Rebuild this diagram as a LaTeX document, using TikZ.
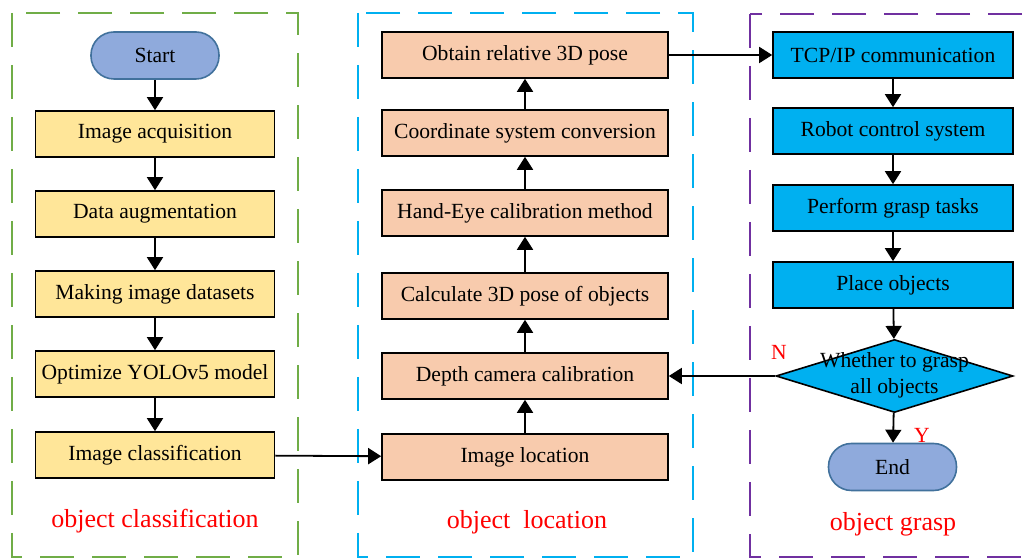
\documentclass[tikz,border=0pt]{standalone}
\usepackage{fontspec}
\setmainfont{Liberation Serif}
\usetikzlibrary{arrows.meta,shapes.geometric}
\definecolor{boxyellow}{HTML}{FFE699}
\definecolor{boxpeach}{HTML}{F8CBAD}
\definecolor{boxcyan}{HTML}{00B0F0}
\definecolor{termblue}{HTML}{8FAADC}
\definecolor{termedge}{HTML}{41719C}
\definecolor{framegreen}{HTML}{70AD47}
\definecolor{frameblue}{HTML}{00B0F0}
\definecolor{framepurple}{HTML}{7030A0}
\begin{document}
\begin{tikzpicture}[x=0.5pt,y=-0.5pt,font=\fontsize{10.8}{13}\selectfont,
	stepbox/.style={draw,line width=0.8pt,minimum height=23pt,inner sep=2pt},
	stepyellow/.style={stepbox,fill=boxyellow,minimum width=119.5pt},
	steppeach/.style={stepbox,fill=boxpeach,minimum width=143pt},
	stepcyan/.style={stepbox,fill=boxcyan,minimum width=120pt},
	terminal/.style={draw=termedge,fill=termblue,line width=0.8pt,rounded corners=11.5pt,minimum width=64pt,minimum height=23.5pt},
	decision/.style={draw,fill=boxcyan,line width=0.8pt,diamond,minimum width=118.5pt,minimum height=36.5pt,inner sep=0pt},
	frame/.style={line width=1pt,dash pattern=on 17pt off 9pt},
	tag/.style={text=red,font=\fontsize{13}{15}\selectfont},
	flow/.style={line width=0.9pt,-{Triangle[width=8pt,length=6.5pt]}}]
			\useasboundingbox (0,0) rectangle (1029,560);
			%
			\draw[frame,framegreen] (12,13) rectangle (298,557);
			\draw[frame,frameblue] (358,13) rectangle (693,557);
			\draw[frame,framepurple] (750,14) rectangle (1045,557);
			%
			\node[terminal]   (start) at (155,55.5)	{Start};
			\node[stepyellow] (c1) at (155,134)	{Image acquisition};
			\node[stepyellow] (c2) at (155,214)	{Data augmentation};
			\node[stepyellow] (c3) at (155,294)	{Making image datasets};
			\node[stepyellow] (c4) at (155,374)	{Optimize YOLOv5 model};
			\node[stepyellow] (c5) at (155,455)	{Image classification};
			%
			\node[steppeach] (l1) at (525,457)	{Image location};
			\node[steppeach] (l2) at (525,376)	{Depth camera calibration};
			\node[steppeach] (l3) at (525,296)	{Calculate 3D pose of objects};
			\node[steppeach] (l4) at (525,213)	{Hand-Eye calibration method};
			\node[steppeach] (l5) at (525,133)	{Coordinate system conversion};
			\node[steppeach] (l6) at (525,55)	{Obtain relative 3D pose};
			%
			\node[stepcyan] (g1) at (893,55)	{TCP/IP communication};
			\node[stepcyan] (g2) at (893,131)	{Robot control system};
			\node[stepcyan] (g3) at (893,208)	{Perform grasp tasks};
			\node[stepcyan] (g4) at (893,285)	{Place objects};
			\node[decision,label={[align=center,yshift=0.5pt]center:Whether to grasp\\all objects}] (g5) at (894.5,376) {};
			\node[terminal] (g6) at (892.5,467)	{End};
			%
			\def\list {start/c1, c1/c2, c2/c3, c3/c4, c4/c5, c5/l1, l1/l2, l2/l3, l3/l4, l4/l5, l5/l6, l6/g1, g1/g2, g2/g3, g3/g4, g4/g5, g5/g6, g5/l2}  % list elements
			\foreach \u\v in \list
			{	\draw[flow] (\u) -- (\v);
			}
			%
			\node[text=red] (no) at (779,352)	{N};
			\node[text=red] (yes) at (922,435)	{Y};
			\node[tag] (tclass) at (155,521)	{object classification};
			\node[tag] (tloc) at (527,522)	{object~~location};
			\node[tag] (tgrasp) at (893,524)	{object grasp};
			%
		\end{tikzpicture}
\end{document}
